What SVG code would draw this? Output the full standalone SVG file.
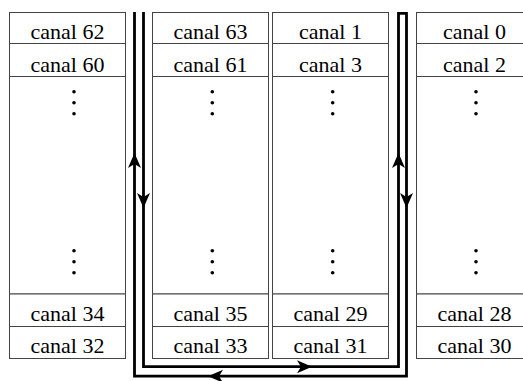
<svg xmlns="http://www.w3.org/2000/svg" xmlns:xlink="http://www.w3.org/1999/xlink" width="523" height="381" viewBox="0 0 523 381">
<style>
.c{fill:#fff;stroke:#444;stroke-width:1}
.t{font-family:"Liberation Serif","Times New Roman","DejaVu Serif",serif;font-size:22px;text-anchor:middle;fill:#000}
.d{fill:#000}
.w{fill:none;stroke:#000;stroke-width:2.8;stroke-linejoin:miter}
</style>
<defs>
<path id="ah" d="M0,0 L-15,-6.5 L-11,0 L-15,6.5 Z" fill="#000"/>
<g id="dots"><circle cx="0" cy="0" r="1.8"/><circle cx="0" cy="11" r="1.8"/><circle cx="0" cy="22" r="1.8"/></g>
</defs>
<rect width="523" height="381" fill="#fff"/>
<g id="col1">
<g id="c62"><rect class="c" x="9.5" y="12.5" width="116" height="31"/><text class="t" x="67.5" y="39">canal 62</text></g>
<g id="c60"><rect class="c" x="9.5" y="43.5" width="116" height="33"/><text class="t" x="67.5" y="71.5">canal 60</text></g>
<g id="m1"><rect class="c" x="9.5" y="76.5" width="116" height="217.5"/><use xlink:href="#dots" x="74" y="91.7" class="d"/><use xlink:href="#dots" x="74" y="250.7" class="d"/></g>
<g id="c34"><rect class="c" x="9.5" y="294" width="116" height="32.5"/><text class="t" x="67.5" y="320.7">canal 34</text></g>
<g id="c32"><rect class="c" x="9.5" y="326.5" width="116" height="32"/><text class="t" x="67.5" y="353.3">canal 32</text></g>
</g>
<g id="col2">
<g id="c63"><rect class="c" x="152.5" y="12.5" width="116" height="31"/><text class="t" x="210.5" y="39">canal 63</text></g>
<g id="c61"><rect class="c" x="152.5" y="43.5" width="116" height="33"/><text class="t" x="210.5" y="71.5">canal 61</text></g>
<g id="m2"><rect class="c" x="152.5" y="76.5" width="116" height="217.5"/><use xlink:href="#dots" x="212.3" y="91.7" class="d"/><use xlink:href="#dots" x="212.3" y="250.7" class="d"/></g>
<g id="c35"><rect class="c" x="152.5" y="294" width="116" height="32.5"/><text class="t" x="210.5" y="320.7">canal 35</text></g>
<g id="c33"><rect class="c" x="152.5" y="326.5" width="116" height="32"/><text class="t" x="210.5" y="353.3">canal 33</text></g>
</g>
<g id="col3">
<g id="c1"><rect class="c" x="272.5" y="12.5" width="116" height="31"/><text class="t" x="330.5" y="39">canal 1</text></g>
<g id="c3"><rect class="c" x="272.5" y="43.5" width="116" height="33"/><text class="t" x="330.5" y="71.5">canal 3</text></g>
<g id="m3"><rect class="c" x="272.5" y="76.5" width="116" height="217.5"/><use xlink:href="#dots" x="332.7" y="91.7" class="d"/><use xlink:href="#dots" x="332.7" y="250.7" class="d"/></g>
<g id="c29"><rect class="c" x="272.5" y="294" width="116" height="32.5"/><text class="t" x="330.5" y="320.7">canal 29</text></g>
<g id="c31"><rect class="c" x="272.5" y="326.5" width="116" height="32"/><text class="t" x="330.5" y="353.3">canal 31</text></g>
</g>
<g id="col4">
<g id="c0"><rect class="c" x="416.5" y="12.5" width="116" height="31"/><text class="t" x="474.5" y="39">canal 0</text></g>
<g id="c2"><rect class="c" x="416.5" y="43.5" width="116" height="33"/><text class="t" x="474.5" y="71.5">canal 2</text></g>
<g id="m4"><rect class="c" x="416.5" y="76.5" width="116" height="217.5"/><use xlink:href="#dots" x="476" y="91.7" class="d"/><use xlink:href="#dots" x="476" y="250.7" class="d"/></g>
<g id="c28"><rect class="c" x="416.5" y="294" width="116" height="32.5"/><text class="t" x="474.5" y="320.7">canal 28</text></g>
<g id="c30"><rect class="c" x="416.5" y="326.5" width="116" height="32"/><text class="t" x="474.5" y="353.3">canal 30</text></g>
</g>
<g id="connectors">
<path class="w" d="M143.5,12 V366.7 H398.5 V13.4 H406.5 V376.2 H134.5 V12"/>
<use xlink:href="#ah" transform="translate(134.5,153) rotate(-90)"/>
<use xlink:href="#ah" transform="translate(143.5,208) rotate(90)"/>
<use xlink:href="#ah" transform="translate(398.5,153) rotate(-90)"/>
<use xlink:href="#ah" transform="translate(406.5,208) rotate(90)"/>
<use xlink:href="#ah" transform="translate(208,376.2) rotate(180)"/>
<use xlink:href="#ah" transform="translate(312,366.7)"/>
</g>
</svg>
